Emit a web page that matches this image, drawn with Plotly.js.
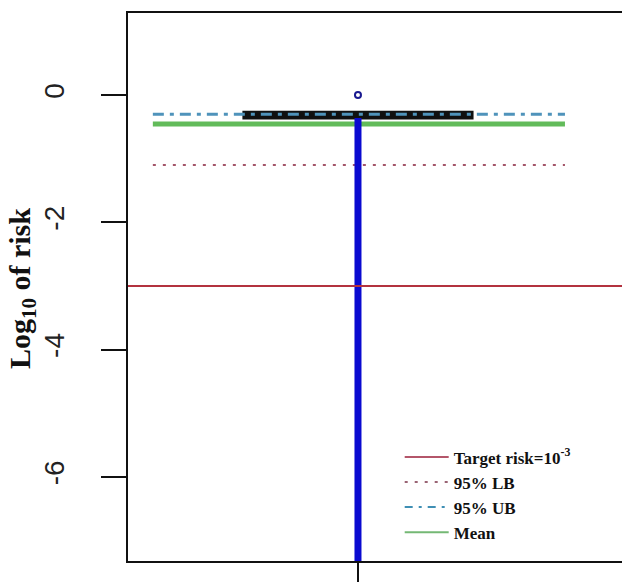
<!DOCTYPE html>
<html>
<head>
<meta charset="utf-8">
<script src="https://cdn.plot.ly/plotly-3.0.1.min.js"></script>
<style>html,body{margin:0;padding:0;background:#fff;}#chart{width:622px;height:582px;}</style>
</head>
<body>
<div id="chart"></div>
<script>
// ---- data ----
var yTickVals = [0, -2, -4, -6];
var yTickText = ["0", "-2", "-4", "-6"];
var boxPos = [1];
var boxQ1 = [-0.36];
var boxMedian = [-0.31];
var boxQ3 = [-0.27];
var whiskerY = [-7.6, -0.36];
var outlierY = [0.0];
var refLineX = [0.554, 1.45];
var targetX = [0.5, 1.574];
var targetRisk = [-3.0, -3.0];
var lb95 = [-1.10, -1.10];
var ub95 = [-0.30, -0.30];
var meanRisk = [-0.455, -0.455];
var legendNames = ["Target risk=10<sup>-3</sup>", "95% LB", "95% UB", "Mean"];

var traces = [
  {type:"scatter", mode:"lines", x:refLineX, y:lb95, showlegend:false,
   line:{color:"#a4566a", width:2, dash:"3px,7px"}},
  {type:"scatter", mode:"lines", x:refLineX, y:meanRisk, showlegend:false,
   line:{color:"#62bb5a", width:5}},
  {type:"box", x:boxPos, q1:boxQ1, median:boxMedian, q3:boxQ3, lowerfence:boxQ1, upperfence:boxQ3,
   width:0.496, whiskerwidth:0, boxpoints:false, showlegend:false, hoverinfo:"skip",
   line:{color:"#111", width:3}, fillcolor:"#111"},
  {type:"scatter", mode:"lines", x:[boxPos[0], boxPos[0]], y:whiskerY, showlegend:false,
   line:{color:"#0a0ad0", width:7}},
  {type:"scatter", mode:"markers", x:boxPos, y:outlierY, showlegend:false,
   marker:{symbol:"circle-open", size:6, color:"#1a1a90", line:{width:2, color:"#1a1a90"}}},
  {type:"scatter", mode:"lines", x:refLineX, y:ub95, showlegend:false,
   line:{color:"#4f93bb", width:3, dash:"11px,6px,4px,6px"}},
  {type:"scatter", mode:"lines", x:targetX, y:targetRisk, showlegend:false,
   line:{color:"#b3323f", width:2}},
  // legend keys (thin line samples as in the reference legend)
  {type:"scatter", mode:"lines", x:[null], y:[null], name:legendNames[0],
   line:{color:"#b4566a", width:2}},
  {type:"scatter", mode:"lines", x:[null], y:[null], name:legendNames[1],
   line:{color:"#9a6474", width:2, dash:"3px,7px"}},
  {type:"scatter", mode:"lines", x:[null], y:[null], name:legendNames[2],
   line:{color:"#3f8fb4", width:2, dash:"8px,6px,3px,6px"}},
  {type:"scatter", mode:"lines", x:[null], y:[null], name:legendNames[3],
   line:{color:"#74b874", width:2}}
];

var layout = {
  width:622, height:582,
  margin:{l:128, r:0, t:13, b:21},
  paper_bgcolor:"#fff", plot_bgcolor:"#fff",
  showlegend:true,
  legend:{x:0.55, y:0.222, xanchor:"left", yanchor:"top", bgcolor:"rgba(255,255,255,0)",
    font:{family:"Liberation Serif", size:17, color:"#111", weight:"bold"},
    itemwidth:44, tracegroupgap:0, traceorder:"normal"},
  xaxis:{range:[0.5, 1.574], showgrid:false, zeroline:false, showline:true, mirror:true,
    linecolor:"#111", linewidth:2, tickvals:boxPos, ticks:"outside", ticklen:21, tickwidth:2,
    tickcolor:"#111", showticklabels:false, fixedrange:true},
  yaxis:{range:[-7.32, 1.29], showgrid:false, zeroline:false, showline:true, mirror:false,
    linecolor:"#111", linewidth:2, tickvals:yTickVals, ticktext:yTickText, ticks:"outside",
    ticklen:25, tickwidth:2, tickcolor:"#111", tickangle:-90, ticklabelstandoff:26,
    tickfont:{family:"Liberation Sans", size:28, color:"#222"}},
  annotations:[{xref:"paper", yref:"paper", x:-0.2146, y:0.498, xanchor:"center", yanchor:"middle",
    textangle:-90, showarrow:false, text:"Log<sub>10</sub> of risk",
    font:{family:"Liberation Serif", size:30, color:"#111", weight:"bold"}}]
};

Plotly.newPlot("chart", traces, layout, {staticPlot:true, displayModeBar:false});
</script>
</body>
</html>
